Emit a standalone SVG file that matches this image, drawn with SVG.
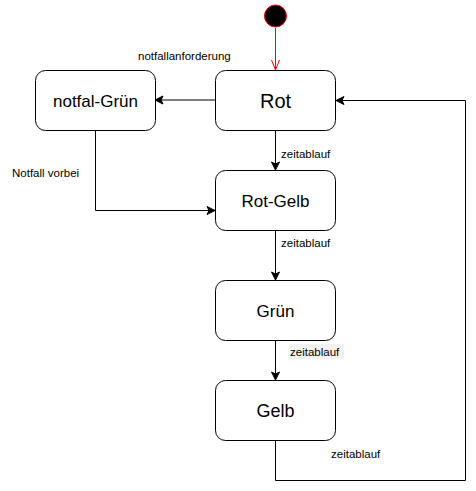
<svg xmlns="http://www.w3.org/2000/svg" width="476" height="491" viewBox="0 0 476 491">
<style>
.node rect{fill:#fff;stroke:#000;stroke-width:1}
.node text{font-family:"Liberation Sans",Arial,sans-serif;fill:#000;text-anchor:middle}
.lbl{font-family:"Liberation Sans",Arial,sans-serif;font-size:11.5px;fill:#000}
.edge{fill:none;stroke:#000;stroke-width:1}
</style>
<defs>
<marker id="arr" markerWidth="10" markerHeight="10" refX="9" refY="5" orient="auto" markerUnits="userSpaceOnUse">
<path d="M1,1 L9,5 L1,9 L3,5 Z" fill="#000" stroke="#000" stroke-width="1"/>
</marker>
<marker id="open" markerWidth="10" markerHeight="12" refX="5" refY="11" orient="0" markerUnits="userSpaceOnUse">
<path d="M1,1 L5,11 L9,1" fill="none" stroke="#f00" stroke-width="1"/>
</marker>
</defs>
<rect width="476" height="491" fill="#fff"/>
<g id="connectors">
<path class="edge" d="M275.5,28 L275.5,70" style="stroke:#f00" marker-end="url(#open)"/>
<path class="edge" d="M215,100 L155,100" marker-end="url(#arr)"/>
<path class="edge" d="M275.5,130 L275.5,170" marker-end="url(#arr)"/>
<path class="edge" d="M95.5,130 L95.5,210.5 L215,210.5" marker-end="url(#arr)"/>
<path class="edge" d="M275.5,230 L275.5,280" marker-end="url(#arr)"/>
<path class="edge" d="M275.5,340 L275.5,380" marker-end="url(#arr)"/>
<path class="edge" d="M275.5,440 L275.5,480.5 L465.5,480.5 L465.5,100.5 L336,100.5" marker-end="url(#arr)"/>
<text class="lbl" x="138" y="60">notfallanforderung</text>
<text class="lbl" x="281" y="158">zeitablauf</text>
<text class="lbl" x="12" y="177">Notfall vorbei</text>
<text class="lbl" x="281" y="247">zeitablauf</text>
<rect x="289" y="344" width="55" height="15" fill="#f2f2f2"/>
<text class="lbl" x="290" y="355.5">zeitablauf</text>
<text class="lbl" x="331" y="457.5">zeitablauf</text>
</g>
<g id="start">
<circle cx="275.5" cy="16" r="11" fill="#000" stroke="#f00" stroke-width="1"/>
</g>
<g id="rot" class="node">
<rect x="215.5" y="70.5" width="120" height="60" rx="10"/>
<text x="275.5" y="107.5" font-size="20">Rot</text>
</g>
<g id="notfal-gruen" class="node">
<rect x="35.5" y="70.5" width="120" height="60" rx="10"/>
<text x="95.5" y="106.5" font-size="17">notfal-Grün</text>
</g>
<g id="rot-gelb" class="node">
<rect x="215.5" y="170.5" width="120" height="60" rx="10"/>
<text x="275.5" y="206.5" font-size="17">Rot-Gelb</text>
</g>
<g id="gruen" class="node">
<rect x="215.5" y="280.5" width="120" height="60" rx="10"/>
<text x="275.5" y="316.5" font-size="17">Grün</text>
</g>
<g id="gelb" class="node">
<rect x="215.5" y="380.5" width="120" height="60" rx="10"/>
<text x="275.5" y="416.5" font-size="18">Gelb</text>
</g>
</svg>
